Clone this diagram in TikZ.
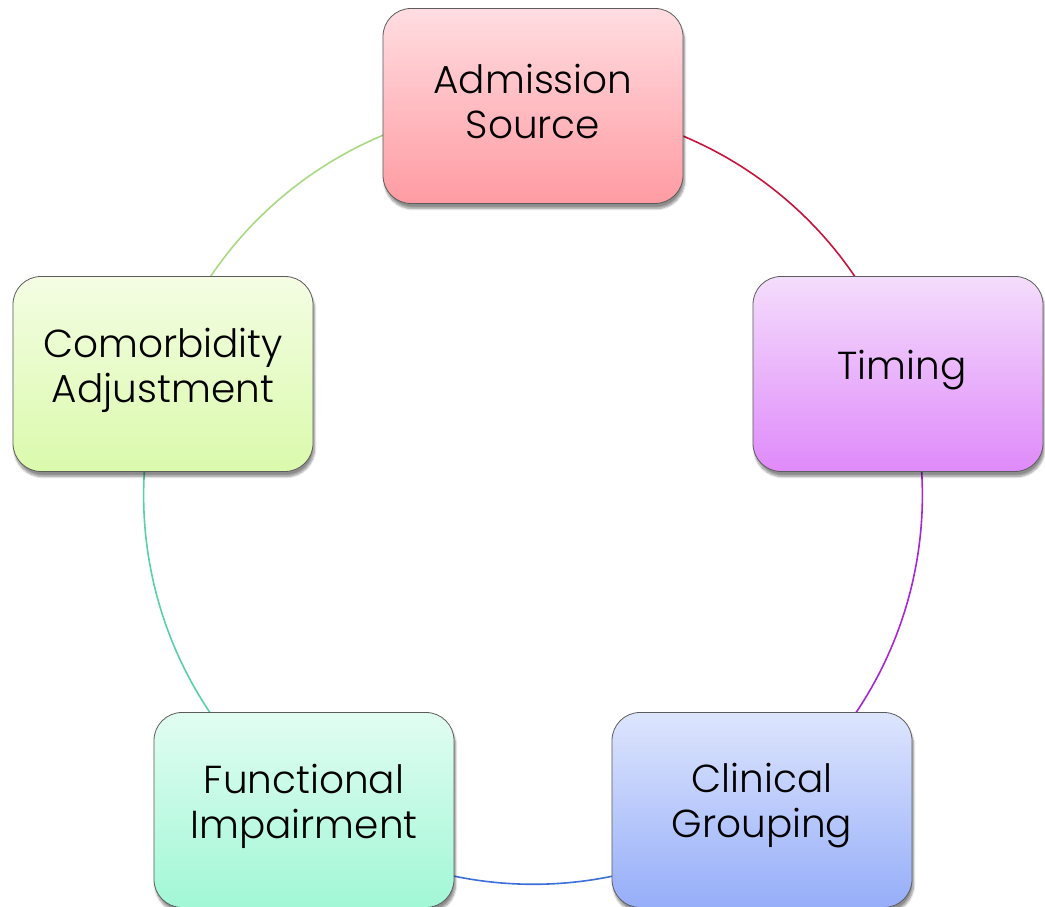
\documentclass[tikz,border=0pt]{standalone}
\usepackage{fontspec}
\setmainfont{Poppins}[UprightFont=* Light]
\usetikzlibrary{shadows.blur,backgrounds}

\definecolor{admTop}{HTML}{FFDDE1}
\definecolor{admBot}{HTML}{FF9BA2}
\definecolor{timTop}{HTML}{F4DDFC}
\definecolor{timBot}{HTML}{DF8AFA}
\definecolor{cliTop}{HTML}{DDE5FD}
\definecolor{cliBot}{HTML}{96AEF9}
\definecolor{funTop}{HTML}{E1FDF2}
\definecolor{funBot}{HTML}{A1F7D6}
\definecolor{comTop}{HTML}{F4FDE3}
\definecolor{comBot}{HTML}{DAFAAC}
\definecolor{boxLine}{HTML}{5C5C5C}
\definecolor{arcRed}{HTML}{C8143C}
\definecolor{arcPurple}{HTML}{A826D6}
\definecolor{arcBlue}{HTML}{3E6FD9}
\definecolor{arcTeal}{HTML}{58D2A4}
\definecolor{arcGreen}{HTML}{A9D982}

\tikzset{
  stage/.style={
    draw=boxLine, line width=0.8pt, rounded corners=28pt,
    minimum width=300pt, minimum height=195pt,
    inner sep=0pt,
    blur shadow={shadow xshift=1.5pt, shadow yshift=-5pt,
                 shadow blur steps=8, shadow opacity=45}
  },
  caption/.style={align=center, yshift=4pt,
    font=\fontsize{39}{45}\selectfont},
  link/.style={line width=1.6pt}
}

\begin{document}
\begin{tikzpicture}[x=1pt,y=1pt]
  \useasboundingbox (0,0) rectangle (1045,907);

  % five stages placed on a circle of radius 389 round (533,412)
  \node[stage, top color=admTop, bottom color=admBot,
        label={[caption]center:Admission\\Source}] (adm) at (533,801) {};
  \node[stage, top color=timTop, bottom color=timBot, minimum width=290pt,
        label={[caption, xshift=4pt]center:Timing}] (tim) at (898,533) {};
  \node[stage, top color=cliTop, bottom color=cliBot,
        label={[caption]center:Clinical\\Grouping}] (cli) at (762,97) {};
  \node[stage, top color=funTop, bottom color=funBot,
        label={[caption]center:Functional\\Impairment}] (fun) at (304,97) {};
  \node[stage, top color=comTop, bottom color=comBot,
        label={[caption]center:Comorbidity\\Adjustment}] (com) at (163,533) {};

  % arcs of the circle joining neighbouring stages
  \begin{scope}[on background layer]
    \draw[link, arcRed]    (adm.center) arc[start angle=90,   end angle=18,   radius=389pt];
    \draw[link, arcPurple] (cli.center) arc[start angle=-54,  end angle=18,   radius=389pt];
    \draw[link, arcBlue]   (cli.center) arc[start angle=-54,  end angle=-126, radius=389pt];
    \draw[link, arcTeal]   (fun.center) arc[start angle=-126, end angle=-198, radius=389pt];
    \draw[link, arcGreen]  (com.center) arc[start angle=162,  end angle=90,   radius=389pt];
  \end{scope}
\end{tikzpicture}
\end{document}
